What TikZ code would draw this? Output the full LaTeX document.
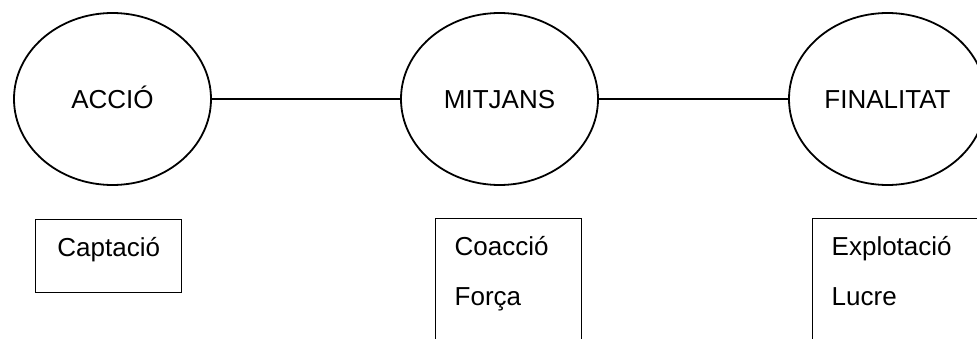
\documentclass[tikz,border=0pt]{standalone}
\usepackage{fontspec}
\setmainfont{Liberation Sans}
\usetikzlibrary{shapes.geometric}

\begin{document}
\begin{tikzpicture}[x=1pt,y=-1pt,font=\fontsize{26}{50}\selectfont,
  idea/.style={ellipse,draw,line width=1.8pt,minimum width=197pt,minimum height=172pt,text height=18.6pt,text depth=0pt,inner sep=0pt},
  card/.style n args={2}{rectangle,draw,line width=1.4pt,anchor=north west,align=#1,text width=#2,inner xsep=19pt,inner ysep=15pt,text height=22pt}]
\clip (0,0) rectangle (977,339);
\foreach \n/\x/\y/\t in %
{accio/112.5/99/ACCIÓ,mitjans/499.5/99/MITJANS,finalitat/887.5/99/FINALITAT} {
   \node[idea] (\n) at (\x,\y) {\t};
}
\draw[line width=1.8pt] (accio) -- (mitjans) -- (finalitat);
\node[card={center}{108pt},text depth=21pt] (captacio) at (35,219) {Captació};
\node[card={left}{108pt},text depth=100pt] (mitjansbox) at (435,218) {Coacció\\Força};
\node[card={left}{140pt},text depth=100pt] (finalitatbox) at (812,218) {Explotació\\Lucre};
\end{tikzpicture}
\end{document}
